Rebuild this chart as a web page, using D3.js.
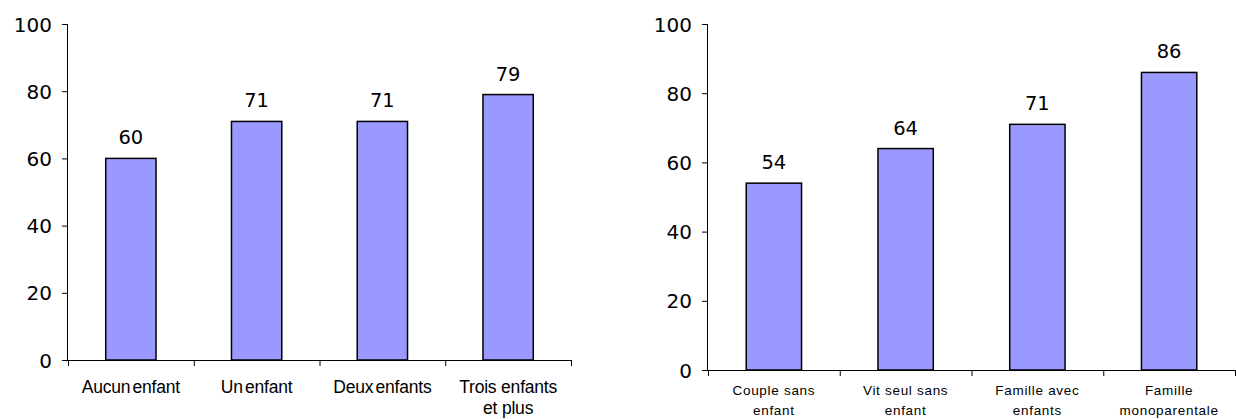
<!DOCTYPE html>
<html>
<head>
<meta charset="utf-8">
<script src="https://cdn.jsdelivr.net/npm/d3@7"></script>
<style>
	body { margin: 0; background: #fff; }
	svg { display: block; }
</style>
</head>
<body>
<svg id="chart"></svg>
<script>
// data
const leftCategories = [["Aucun enfant"], ["Un enfant"], ["Deux enfants"], ["Trois enfants", "et plus"]];
const leftValues = [60, 71, 71, 79];
const rightCategories = [["Couple sans", "enfant"], ["Vit seul sans", "enfant"], ["Famille avec", "enfants"], ["Famille", "monoparentale"]];
const rightValues = [54, 64, 71, 86];
const yTicks = [0, 20, 40, 60, 80, 100];

const width = 1236, height = 419;
const svg = d3.select("#chart").attr("width", width).attr("height", height);

function drawPanel(cfg) {
	const g = svg.append("g");
	const idx = d3.range(cfg.values.length);

	const x_scale = d3.scaleBand()
		.domain(idx)
		.range([cfg.x0, cfg.x1])
		.paddingInner(cfg.pad)
		.paddingOuter(cfg.pad / 2);
	// linear scale for tick marks at the category boundaries
	const x_edges = d3.scaleLinear().domain([0, cfg.values.length]).range([cfg.x0, cfg.x1]);
	const y_scale = d3.scaleLinear().domain([0, 100]).range([cfg.y0, cfg.y1]);

	// bars
	g.selectAll("rect")
		.data(cfg.values)
		.join("rect")
		.attr("x", (d, i) => x_scale(i))
		.attr("y", (d) => y_scale(d))
		.attr("width", x_scale.bandwidth())
		.attr("height", (d) => y_scale(0) - y_scale(d))
		.attr("fill", "#9999ff")
		.attr("stroke", "#000")
		.attr("stroke-width", 1.5);

	// value labels
	g.selectAll("text.val")
		.data(cfg.values)
		.join("text")
		.attr("class", "val")
		.attr("x", (d, i) => x_scale(i) + x_scale.bandwidth() / 2)
		.attr("y", (d) => y_scale(d) - 14)
		.attr("text-anchor", "middle")
		.style("font-family", "DejaVu Sans, Verdana, sans-serif")
		.style("font-size", "19.5px")
		.text((d) => d);

	// y axis
	const y_axis = d3.axisLeft(y_scale).tickValues(yTicks).tickSize(6).tickPadding(10);
	const ya = g.append("g").attr("transform", `translate(${cfg.x0},0)`).call(y_axis);
	ya.select(".domain").attr("d", `M-0.5,${cfg.y1}V${cfg.y0}`);
	ya.selectAll("text")
		.style("font-family", "DejaVu Sans, Verdana, sans-serif")
		.style("font-size", "20px")
		.attr("fill", "#000")
		.attr("dy", "0.35em");

	// x axis
	const x_axis = d3.axisBottom(x_edges).tickValues(d3.range(cfg.values.length + 1)).tickSize(6).tickFormat("");
	const xa = g.append("g").attr("transform", `translate(0,${cfg.y0})`).call(x_axis);
	xa.select(".domain").attr("d", `M${cfg.x0 - 6},0.5H${cfg.x1}`);

	// category labels
	g.selectAll("text.cat")
		.data(cfg.categories)
		.join("text")
		.attr("class", "cat")
		.attr("text-anchor", "middle")
		.style("font-family", "Liberation Sans, Arial, sans-serif")
		.style("font-size", cfg.catSize)
		.style("letter-spacing", cfg.catSpacing)
		.style("word-spacing", (d) => (d.length > 1 ? "0px" : cfg.wordSpacing))
		.each(function (d, i) {
			d3.select(this).selectAll("tspan")
				.data(d)
				.join("tspan")
				.attr("x", x_scale(i) + x_scale.bandwidth() / 2)
				.attr("y", (t, j) => cfg.y0 + cfg.catTop + j * cfg.catLine)
				.text((t) => t);
		});
}

drawPanel({
	values: leftValues, categories: leftCategories,
	x0: 68, x1: 571, y0: 360, y1: 24, pad: 0.6,
	catSize: "17.5px", catSpacing: "-0.2px", wordSpacing: "-2.5px", catTop: 33, catLine: 21
});

drawPanel({
	values: rightValues, categories: rightCategories,
	x0: 708, x1: 1235, y0: 370, y1: 24, pad: 0.58,
	catSize: "13.5px", catSpacing: "0.7px", wordSpacing: "0px", catTop: 25, catLine: 20
});
</script>
</body>
</html>
